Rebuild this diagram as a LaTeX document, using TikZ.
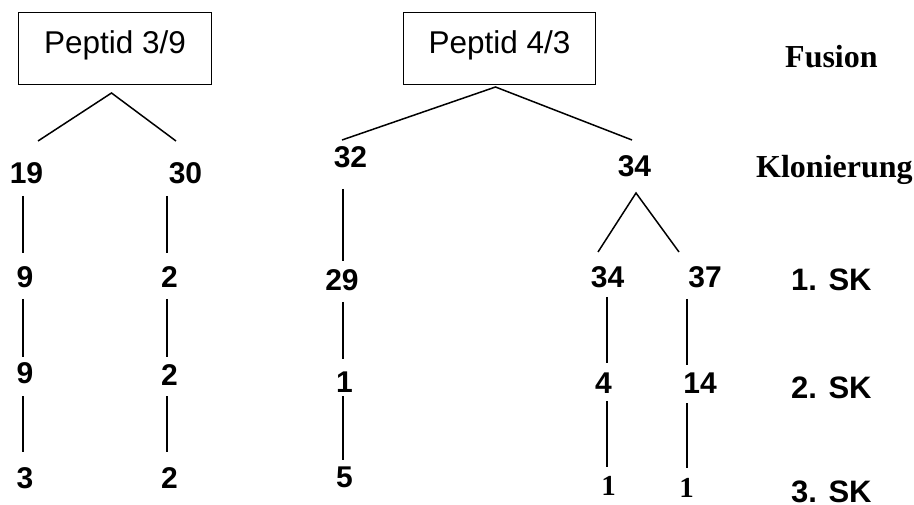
\documentclass[tikz,border=0pt]{standalone}
\usepackage{fontspec}
\setmainfont{Liberation Serif}
\newfontfamily\arialf{Liberation Sans}
\tikzset{
  num/.style={font=\arialf\bfseries\fontsize{30}{34}\selectfont, inner sep=0pt, anchor=base},
  snum/.style={font=\bfseries\fontsize{29}{33}\selectfont, inner sep=0pt, anchor=base},
  sklabel/.style={font=\arialf\bfseries\fontsize{31}{35}\selectfont, inner sep=0pt, anchor=base west},
  stagelabel/.style={font=\bfseries\fontsize{32}{36}\selectfont, inner sep=0pt, anchor=base west},
  peptbox/.style={draw, line width=1pt, font=\arialf\fontsize{31.5}{36}\selectfont, inner sep=0pt,
    minimum width=193pt, text height=41pt, text depth=31pt, anchor=north west},
  conn/.style={line width=1.5pt}
}
\begin{document}
\begin{tikzpicture}[x=1pt,y=-1pt]
\useasboundingbox (0,0) rectangle (914,505);
% boxes
\node[peptbox] (box1) at (18,12) {Peptid 3/9};
\node[peptbox, minimum width=192pt] (box2) at (403,12) {Peptid 4/3};
% stage labels
\node[stagelabel] (fusion) at (785,68) {Fusion};
\node[stagelabel] (klon) at (756,178) {Klonierung};
\node[sklabel] (sk1) at (791,291) {1. SK};
\node[sklabel] (sk2) at (791,399) {2. SK};
\node[sklabel] (sk3) at (791,502) {3. SK};
% column A
\node[num] (n19) at (26.5,184) {19};
\node[num] (nA1) at (25,288) {9};
\node[num] (nA2) at (25,384) {9};
\node[num] (nA3) at (25,488) {3};
% column B
\node[num] (n30) at (185.5,184) {30};
\node[num] (nB1) at (169.5,288) {2};
\node[num] (nB2) at (169.5,385) {2};
\node[num] (nB3) at (169.5,488) {2};
% column C
\node[num] (n32) at (350.5,168) {32};
\node[num] (nC1) at (342,291) {29};
\node[num] (nC2) at (344.5,392) {1};
\node[num] (nC3) at (344.5,487) {5};
% column D/E
\node[num] (n34) at (634.5,177) {34};
\node[num] (nD1) at (607.5,288) {34};
\node[num] (nD2) at (603.5,393) {4};
\node[snum] (nD3) at (608.5,495.5) {1};
\node[num] (nE1) at (705,288) {37};
\node[num] (nE2) at (700,393) {14};
\node[snum] (nE3) at (686.5,497) {1};
% connectors
\draw[conn] ([shift={(11.5,-43)}]n19.base) -- ([shift={(-3.5,8)}]box1.south) -- ([shift={(-9.5,-43)}]n30.base);
\draw[conn] ([shift={(-8.5,-28)}]n32.base) -- ([shift={(-4,2)}]box2.south) -- ([shift={(-2.5,-37)}]n34.base);
\draw[conn] ([shift={(-3.5,12)}]n19.base) -- ([shift={(-2,-35)}]nA1.base);
\draw[conn] ([shift={(-2,11)}]nA1.base) -- ([shift={(-2,-27)}]nA2.base);
\draw[conn] ([shift={(-2,12)}]nA2.base) -- ([shift={(-2,-36)}]nA3.base);
\draw[conn] ([shift={(-18.5,12)}]n30.base) -- ([shift={(-2.5,-35)}]nB1.base);
\draw[conn] ([shift={(-2.5,11)}]nB1.base) -- ([shift={(-2.5,-28)}]nB2.base);
\draw[conn] ([shift={(-2.5,11)}]nB2.base) -- ([shift={(-2.5,-36)}]nB3.base);
\draw[conn] ([shift={(-7.5,21)}]n32.base) -- ([shift={(1,-30)}]nC1.base);
\draw[conn] ([shift={(1,11)}]nC1.base) -- ([shift={(-1.5,-33)}]nC2.base);
\draw[conn] ([shift={(-1.5,4)}]nC2.base) -- ([shift={(-1.5,-27)}]nC3.base);
\draw[conn] ([shift={(-9.5,-36)}]nD1.base) -- ([shift={(1.5,16)}]n34.base) -- ([shift={(-26,-36)}]nE1.base);
\draw[conn] ([shift={(-0.5,9)}]nD1.base) -- ([shift={(3.5,-30)}]nD2.base);
\draw[conn] ([shift={(3.5,8)}]nD2.base) -- ([shift={(-1.5,-29)}]nD3.base);
\draw[conn] ([shift={(-18,11)}]nE1.base) -- ([shift={(-13,-28)}]nE2.base);
\draw[conn] ([shift={(-13,10)}]nE2.base) -- ([shift={(0.5,-29)}]nE3.base);
\end{tikzpicture}
\end{document}
